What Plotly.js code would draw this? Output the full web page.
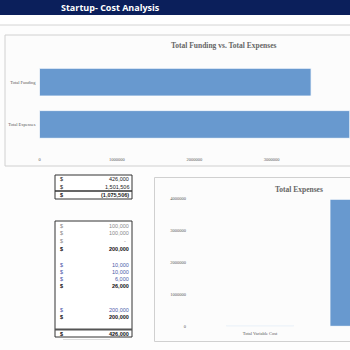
<!DOCTYPE html>
<html>
<head>
<meta charset="utf-8">
<script src="https://cdn.plot.ly/plotly-3.0.1.min.js"></script>
<style>html,body{margin:0;padding:0;background:#fdfdfd;overflow:hidden;}#chart{width:350px;height:350px;}</style>
</head>
<body>
<div id="chart"></div>
<script>
// ---- data ----
const fundingCategories = ['Total Expenses', 'Total Funding'];
const fundingValues = [4010000, 3510000];
const fundingTicks = [0, 1000000, 2000000, 3000000, 4000000];

const expenseCategories = ['Total Variable Cost', 'Total Fixed Cost'];
const expenseValues = [26000, 3980000];
const expenseTicks = [0, 1000000, 2000000, 3000000, 4000000];

const summaryValues = ['426,000', '1,501,506', '(1,075,506)'];
const summaryBold = [false, false, true];

const detailValues = ['100,000', '100,000', '-', '200,000', '10,000', '10,000', '6,000', '26,000', '200,000', '200,000', '426,000'];
const detailKinds = ['gray', 'gray', 'gray', 'bold', 'blue', 'blue', 'blue', 'bold', 'blue', 'bold', 'bold'];

// ---- layout helpers ----
const W = 350, H = 350;
const px = x => x / W;
const py = y => 1 - y / H;
const barColor = '#6899cf';
const serif = 'Liberation Serif';
const sans = 'Liberation Sans';

const traces = [
  {
    type: 'bar', orientation: 'h', x: fundingValues, y: fundingCategories,
    xaxis: 'x', yaxis: 'y', width: 0.655,
    marker: {color: barColor, line: {color: '#ffffff', width: 0.8}},
    hoverinfo: 'none'
  },
  {
    type: 'bar', x: expenseCategories, y: expenseValues,
    xaxis: 'x2', yaxis: 'y2', width: 0.65,
    marker: {color: barColor, line: {color: '#ffffff', width: 0.8}},
    hoverinfo: 'none'
  }
];

const tickFont = {family: serif, size: 4.5, color: '#595959'};

const shapes = [
  // header band
  {type: 'rect', xref: 'paper', yref: 'paper', x0: 0, x1: 1, y0: py(15), y1: 1, fillcolor: '#0b1f5b', line: {width: 0}, layer: 'below'},
  {type: 'rect', xref: 'paper', yref: 'paper', x0: 0, x1: 1, y0: py(25), y1: py(15), fillcolor: '#ffffff', line: {width: 0}, layer: 'below'},
  {type: 'line', xref: 'paper', yref: 'paper', x0: 0, x1: 1, y0: py(25), y1: py(25), line: {color: '#d4d4d4', width: 1}, layer: 'below'},
  // chart boxes
  {type: 'rect', xref: 'paper', yref: 'paper', x0: px(5), x1: px(352), y0: py(166), y1: py(35), fillcolor: '#fcfcfc', line: {color: '#d0d0d0', width: 1}, layer: 'below'},
  {type: 'rect', xref: 'paper', yref: 'paper', x0: px(154.5), x1: px(352), y0: py(341.5), y1: py(177.5), fillcolor: '#fcfcfc', line: {color: '#d0d0d0', width: 1}, layer: 'below'},
  // table boxes
  {type: 'rect', xref: 'paper', yref: 'paper', x0: px(55), x1: px(132), y0: py(199), y1: py(175), fillcolor: '#ffffff', line: {color: '#333333', width: 1}, layer: 'below'},
  {type: 'line', xref: 'paper', yref: 'paper', x0: px(55), x1: px(132), y0: py(191), y1: py(191), line: {color: '#333333', width: 1.5}, layer: 'below'},
  {type: 'rect', xref: 'paper', yref: 'paper', x0: px(55), x1: px(132), y0: py(337), y1: py(221), fillcolor: '#ffffff', line: {color: '#333333', width: 1}, layer: 'below'},
  {type: 'line', xref: 'paper', yref: 'paper', x0: px(55), x1: px(132), y0: py(329.5), y1: py(329.5), line: {color: '#555555', width: 2}, layer: 'below'},
  {type: 'line', xref: 'paper', yref: 'paper', x0: px(63), x1: px(110), y0: py(339.5), y1: py(339.5), line: {color: '#dddddd', width: 1}, layer: 'below'}
];

const annotations = [
  {text: '<b>Startup- Cost Analysis</b>', xref: 'paper', yref: 'paper', x: px(59), y: py(7.5), xanchor: 'left', yanchor: 'middle', showarrow: false, font: {family: 'Open Sans', size: 9, color: '#ffffff'}},
  {text: '<b>Total Funding vs. Total Expenses</b>', xref: 'paper', yref: 'paper', x: px(223), y: py(45.5), xanchor: 'center', yanchor: 'middle', showarrow: false, font: {family: serif, size: 7.5, color: '#666666'}},
  {text: '<b>Total Expenses</b>', xref: 'paper', yref: 'paper', x: px(298.5), y: py(189), xanchor: 'center', yanchor: 'middle', showarrow: false, font: {family: serif, size: 7.5, color: '#666666'}}
];

function addRow(y, value, color, bold) {
  const b = s => bold ? '<b>' + s + '</b>' : s;
  const f = {family: sans, size: 5.5, color: color};
  const right = value === '-' ? 128 : 130.5;
  annotations.push({text: b('$'), xref: 'paper', yref: 'paper', x: px(57.5), y: py(y), xanchor: 'left', yanchor: 'middle', showarrow: false, font: f});
  annotations.push({text: b(value), xref: 'paper', yref: 'paper', x: px(right), y: py(y), xanchor: 'right', yanchor: 'middle', showarrow: false, font: f});
}
const summaryY = [179, 187, 195];
summaryValues.forEach((v, i) => addRow(summaryY[i], v, '#1a1a1a', summaryBold[i]));
const detailY = [226, 233, 240.5, 249, 264.5, 271.5, 278.5, 286, 309.5, 316.5, 333.5];
const kindColor = {gray: '#8a8a8a', blue: '#4a5aa8', bold: '#111111'};
detailValues.forEach((v, i) => addRow(detailY[i], v, kindColor[detailKinds[i]], detailKinds[i] === 'bold'));

const layout = {
  width: W, height: H,
  margin: {l: 0, r: 0, t: 0, b: 0, pad: 0},
  paper_bgcolor: '#fdfdfd', plot_bgcolor: 'rgba(0,0,0,0)',
  showlegend: false, bargap: 0.35,
  xaxis: {
    domain: [px(39.5), 1], range: [0, 4000000 * 310.5 / 309.5],
    tickvals: fundingTicks, ticktext: fundingTicks.map(String),
    showgrid: false, zeroline: false, showline: false,
    ticks: 'outside', ticklen: 9, tickcolor: 'rgba(0,0,0,0)',
    tickfont: tickFont, anchor: 'y', fixedrange: true
  },
  yaxis: {
    domain: [py(145.6), py(61)], range: [-0.5, 1.5], type: 'category',
    categoryorder: 'array', categoryarray: fundingCategories,
    showgrid: false, zeroline: false, showline: false,
    ticks: 'outside', ticklen: 2, tickcolor: 'rgba(0,0,0,0)',
    tickfont: tickFont, anchor: 'x', fixedrange: true
  },
  xaxis2: {
    domain: [px(192), 1], range: [-0.656, 0.868], type: 'category',
    categoryorder: 'array', categoryarray: expenseCategories,
    showgrid: false, zeroline: false, showline: false,
    ticks: 'outside', ticklen: 2, tickcolor: 'rgba(0,0,0,0)',
    tickfont: tickFont, anchor: 'y2', fixedrange: true
  },
  yaxis2: {
    domain: [py(326.3), py(190)], range: [0, 4000000 * 136.3 / 127.6],
    tickvals: expenseTicks, ticktext: expenseTicks.map(String),
    showgrid: false, zeroline: false, showline: false,
    ticks: 'outside', ticklen: 4, tickcolor: 'rgba(0,0,0,0)',
    tickfont: tickFont, anchor: 'x2', fixedrange: true
  },
  shapes: shapes,
  annotations: annotations
};

Plotly.newPlot('chart', traces, layout, {displayModeBar: false, staticPlot: true});
</script>
</body>
</html>
